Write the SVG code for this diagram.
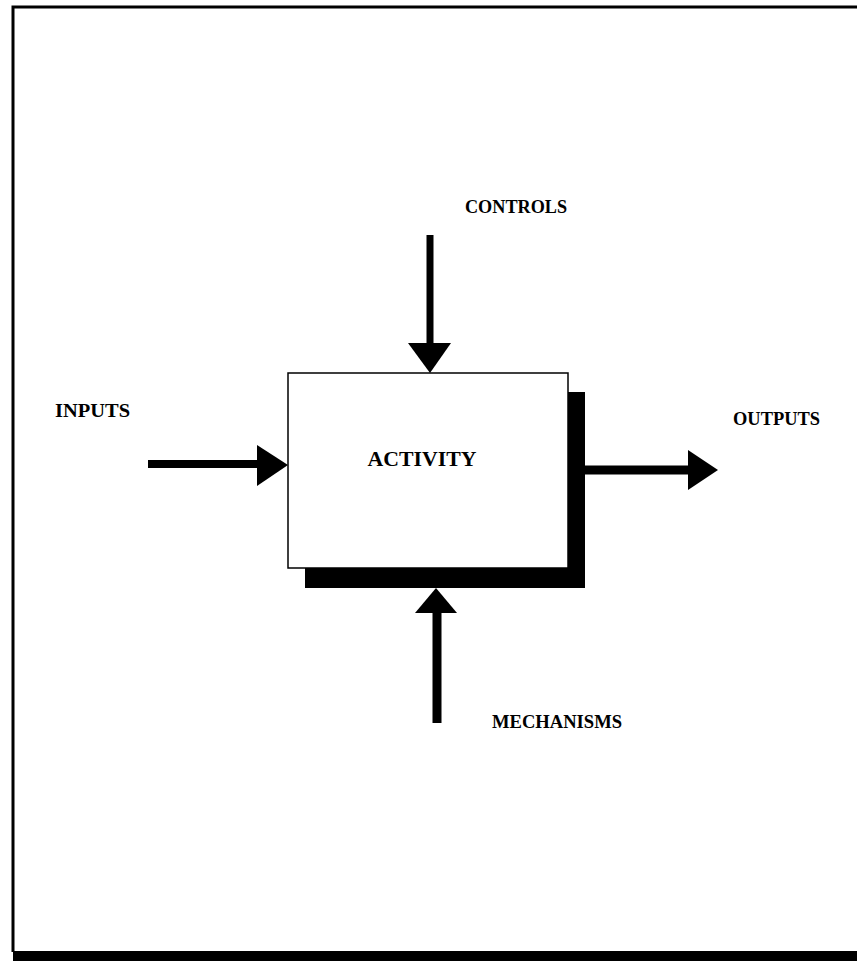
<svg xmlns="http://www.w3.org/2000/svg" width="857" height="961" viewBox="0 0 857 961">
<style>
.lbl{font-family:"Liberation Serif","Times New Roman",serif;font-weight:bold;fill:#000;}
.shaft{stroke:#000;fill:none;}
.head{fill:#000;}
</style>
<rect x="0" y="0" width="857" height="961" fill="#fff"/>
<g id="frame">
<path d="M13,952 L13,7 L857,7" fill="none" stroke="#000" stroke-width="3"/>
<rect x="13" y="951" width="844" height="10" fill="#000"/>
</g>
<g id="activity">
<rect x="305" y="392" width="280" height="196" fill="#000"/>
<rect x="288" y="373" width="280" height="195" fill="#fff" stroke="#000" stroke-width="1.5"/>
<text class="lbl" x="422" y="466" font-size="22" text-anchor="middle" textLength="109" lengthAdjust="spacingAndGlyphs">ACTIVITY</text>
</g>
<g id="connectors">
<g id="controls-arrow">
<line class="shaft" x1="430" y1="235" x2="430" y2="345" stroke-width="7"/>
<polygon class="head" points="408,343 451,343 430,373"/>
</g>
<g id="inputs-arrow">
<line class="shaft" x1="148" y1="464" x2="259" y2="464" stroke-width="8"/>
<polygon class="head" points="257,445 257,486 288,465"/>
</g>
<g id="outputs-arrow">
<line class="shaft" x1="585" y1="470" x2="690" y2="470" stroke-width="9"/>
<polygon class="head" points="688,450 688,490 718,470"/>
</g>
<g id="mechanisms-arrow">
<line class="shaft" x1="437" y1="723" x2="437" y2="611" stroke-width="9"/>
<polygon class="head" points="415,613 457,613 436,588"/>
</g>
</g>
<g id="controls-label"><text class="lbl" x="465" y="213" font-size="18" textLength="102" lengthAdjust="spacingAndGlyphs">CONTROLS</text></g>
<g id="inputs-label"><text class="lbl" x="55" y="417" font-size="18" textLength="75" lengthAdjust="spacingAndGlyphs">INPUTS</text></g>
<g id="outputs-label"><text class="lbl" x="733" y="425" font-size="18" textLength="87" lengthAdjust="spacingAndGlyphs">OUTPUTS</text></g>
<g id="mechanisms-label"><text class="lbl" x="492" y="728" font-size="18" textLength="130" lengthAdjust="spacingAndGlyphs">MECHANISMS</text></g>
</svg>
